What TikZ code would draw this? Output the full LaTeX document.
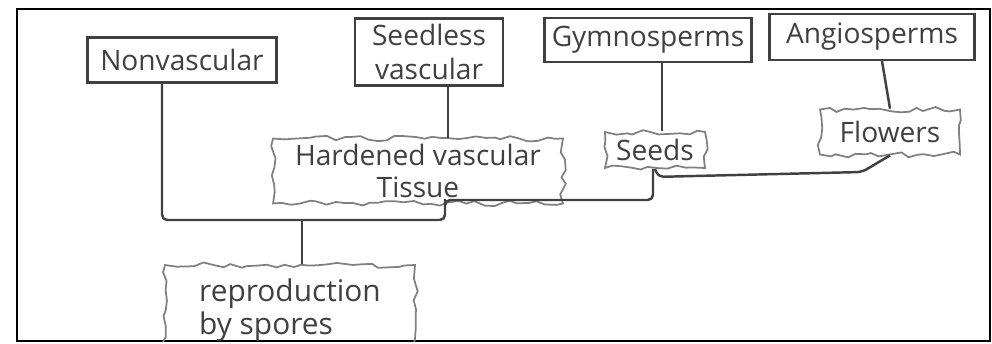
\documentclass[tikz,border=0pt]{standalone}
\usepackage{fontspec}
\setmainfont{Open Sans}
\usepackage{tikz}
\usetikzlibrary{decorations.pathmorphing, positioning}
\definecolor{pencil}{gray}{0.25}
\definecolor{softpencil}{gray}{0.5}
\tikzstyle{taxon} = [rectangle, draw=pencil, line width=1.3pt, text=pencil,
  inner sep=2pt, align=center, font=\fontsize{16}{19}\selectfont]
\tikzstyle{trait} = [rectangle, draw=softpencil, line width=1pt, text=pencil,
  decorate, decoration={random steps, segment length=5pt, amplitude=1.6pt},
  align=center, font=\fontsize{16}{18}\selectfont]
\tikzstyle{branch} = [draw=pencil, line width=1.4pt, rounded corners=3pt]

\begin{document}
\begin{tikzpicture}[x=0.02cm, y=-0.02cm]
    \pgfmathsetseed{7}
    \useasboundingbox (0,0) rectangle (992,343);
    \draw[line width=1.6pt] (17,9) rectangle (990,341);
    % taxa
    \node[taxon, minimum width=3.78cm, minimum height=0.9cm] (nonvasc) at (182,60) {Nonvascular};
    \node[taxon, minimum width=2.96cm, minimum height=1.34cm] (seedless) at (429,52) {Seedless\\vascular};
    \node[taxon, minimum width=4.14cm, minimum height=0.88cm] (gymno) at (648,40) {Gymnosperms};
    \node[taxon, minimum width=4.1cm, minimum height=0.92cm] (angio) at (872,37) {Angiosperms};
    % traits
    \node[trait, minimum width=5.8cm, minimum height=1.14cm] (hard) at (418,171) {Hardened vascular\\Tissue};
    \node[trait, minimum width=2cm, minimum height=0.72cm] (seeds) at (655,150) {Seeds};
    \node[trait, minimum width=2.8cm, minimum height=0.9cm] (flowers) at (890,132) {Flowers};
    \begin{scope}
      \clip (17,9) rectangle (990,341);
      \node[trait, minimum width=5cm, minimum height=1.8cm, align=left,
        font=\fontsize{17}{19}\selectfont] (spores) at (290,310) {reproduction\\by spores};
    \end{scope}
    % branch points
    \coordinate (jleft) at (162,220);
    \coordinate (jroot) at (302,220);
    \coordinate (jmid) at (445,220);
    \coordinate (jseed) at (653,200);
    \coordinate (jflow) at (862,172);
    \coordinate (vs) at (448,0);
    \coordinate (gs) at (662,0);
    \coordinate (as) at (882,0);
    \draw[branch] (nonvasc.south -| jleft) -- (jleft) -- (jmid) -- (jmid |- hard.south)
      -- (jseed -| jmid) -- (jseed) -- (jseed |- seeds.south);
    \draw[branch] (seeds.south) -- ++(3,8) -- (jflow) -- (flowers.south);
    \draw[branch] (jroot) -- (spores.north -| jroot);
    \draw[branch] (seedless.south -| vs) -- (hard.north -| vs);
    \draw[branch] (gymno.south -| gs) -- (seeds.north -| gs);
    \draw[branch] (angio.south -| as) -- (flowers.north);
  \end{tikzpicture}
\end{document}
